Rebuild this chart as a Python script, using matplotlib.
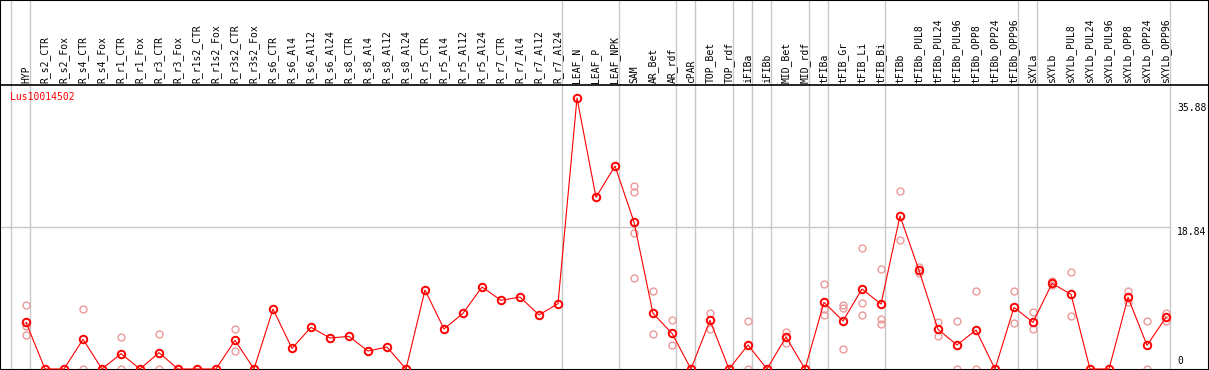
import numpy as np
import matplotlib.pyplot as plt

# Samples (columns) of the expression profile
samples = ['HYP',
           'R_s2_CTR', 'R_s2_Fox', 'R_s4_CTR', 'R_s4_Fox', 'R_r1_CTR', 'R_r1_Fox',
           'R_r3_CTR', 'R_r3_Fox', 'R_r1s2_CTR', 'R_r1s2_Fox', 'R_r3s2_CTR', 'R_r3s2_Fox',
           'R_s6_CTR', 'R_s6_Al4', 'R_s6_Al12', 'R_s6_Al24',
           'R_s8_CTR', 'R_s8_Al4', 'R_s8_Al12', 'R_s8_Al24',
           'R_r5_CTR', 'R_r5_Al4', 'R_r5_Al12', 'R_r5_Al24',
           'R_r7_CTR', 'R_r7_Al4', 'R_r7_Al12', 'R_r7_Al24',
           'LEAF_N', 'LEAF_P', 'LEAF_NPK',
           'SAM', 'AR_Bet', 'AR_rdf', 'cPAR', 'TOP_Bet', 'TOP_rdf',
           'iFIBa', 'iFIBb', 'MID_Bet', 'MID_rdf',
           'tFIBa', 'tFIB_Gr', 'tFIB_Li', 'tFIB_Bi',
           'tFIBb', 'tFIBb_PUL8', 'tFIBb_PUL24', 'tFIBb_PUL96',
           'tFIBb_OPP8', 'tFIBb_OPP24', 'tFIBb_OPP96',
           'sXYLa',
           'sXYLb', 'sXYLb_PUL8', 'sXYLb_PUL24', 'sXYLb_PUL96',
           'sXYLb_OPP8', 'sXYLb_OPP24', 'sXYLb_OPP96']

# Mean expression for each sample
expression = [6.18,
              0, 0, 3.93, 0, 2.03, 0, 2.16, 0, 0, 0, 3.8, 0,
              7.94, 2.73, 5.52, 4.1,
              4.32, 2.38, 2.91, 0,
              10.46, 5.3, 7.37, 10.86,
              9.09, 9.53, 7.15, 8.65,
              35.88, 22.73, 26.88,
              19.46, 7.37, 4.72, 0, 6.44, 0,
              3.18, 0, 4.24, 0,
              8.83, 6.36, 10.59, 8.6,
              20.26, 13.06, 5.25, 3.18, 5.16, 0, 8.16,
              6.18,
              11.34, 9.89, 0, 0, 9.49, 3.13, 6.84]

# Single replicates (light circles)
replicates = [[8.43, 5.69, 4.46],
              [], [], [7.9, 0], [], [4.19, 0], [], [4.59, 0], [], [], [], [5.3, 2.34], [],
              [], [], [], [],
              [], [], [], [],
              [], [], [], [],
              [], [], [], [],
              [], [], [],
              [24.23, 23.48, 18.05, 12.0], [10.28, 4.63], [6.44, 3.18], [], [7.37, 5.3], [],
              [6.36, 0], [], [4.85, 3.4], [],
              [11.21, 7.99, 7.1], [8.47, 8.03, 2.6], [16.02, 8.69, 7.1], [13.24, 6.62, 5.91],
              [23.52, 17.08], [13.46, 12.66], [6.22, 4.37], [6.31, 0], [10.28, 0], [], [10.33, 6.05],
              [7.5, 5.25],
              [11.6, 11.1], [12.84, 6.97], [], [], [10.33, 8.83], [6.36, 0], [7.46, 6.31]]

# Number of samples in each tissue group (separated by grey lines)
group_sizes = [1, 28, 3, 3, 1, 2, 1, 1, 2, 1, 3, 7, 1, 7]

gene = 'Lus10014502'
y_max = 35.88
y_mid = 18.84

mono = 'DejaVu Sans Mono'
grey = '#c8c8c8'

fig = plt.figure(figsize=(12.09, 3.70), dpi=100)
ax = fig.add_axes([0, 0, 1, 1])

# pixel scale of the original picture
ppu = 7.553
ax.set_xlim(-26 / 19, (1209 - 26) / 19)
ax.set_ylim(-1 / ppu, 369 / ppu)
x = np.arange(len(samples))

# group separators
bounds = np.cumsum([0] + group_sizes) - 1 + 0.21
for b in bounds:
    ax.axvline(b, color=grey, lw=1, zorder=1)
ax.hlines(y_mid, ax.get_xlim()[0], bounds[-1], color=grey, lw=1, zorder=1)

# header with sample names
header_y = (369 - 85) / ppu
ax.axhline(header_y, color='black', lw=1.2)
for i, name in enumerate(samples):
    ax.text(i, header_y + 2 / ppu, name, rotation=90, ha='center', va='bottom',
            fontsize=7, family=mono)

ax.text(-0.84, (369 - 92) / ppu, gene, color='red', ha='left', va='top',
        fontsize=7, family=mono)

# replicates
for i, reps in enumerate(replicates):
    if reps:
        ax.plot([i] * len(reps), reps, ls='none', marker='o', mfc='none',
                mec='#eb9a9a', ms=5, mew=1, zorder=2, clip_on=False)

# mean line
ax.plot(x, expression, color='red', lw=0.8, marker='o', mfc='none', mec='red',
        ms=5.4, mew=1.4, zorder=3, clip_on=False)

# value labels on the right
label_x = (1177 - 26) / 19
ax.text(label_x, y_max - 0.6, f'{y_max:.2f}', ha='left', va='top', fontsize=7, family=mono)
ax.text(label_x, y_mid - 0.1, f'{y_mid:.2f}', ha='left', va='top', fontsize=7, family=mono)
ax.text(label_x, 0.35, '0', ha='left', va='bottom', fontsize=7, family=mono)

ax.set_xticks([])
ax.set_yticks([])
for s in ax.spines.values():
    s.set_color('black')
    s.set_linewidth(1.5)

plt.savefig('out.png', dpi=100)
